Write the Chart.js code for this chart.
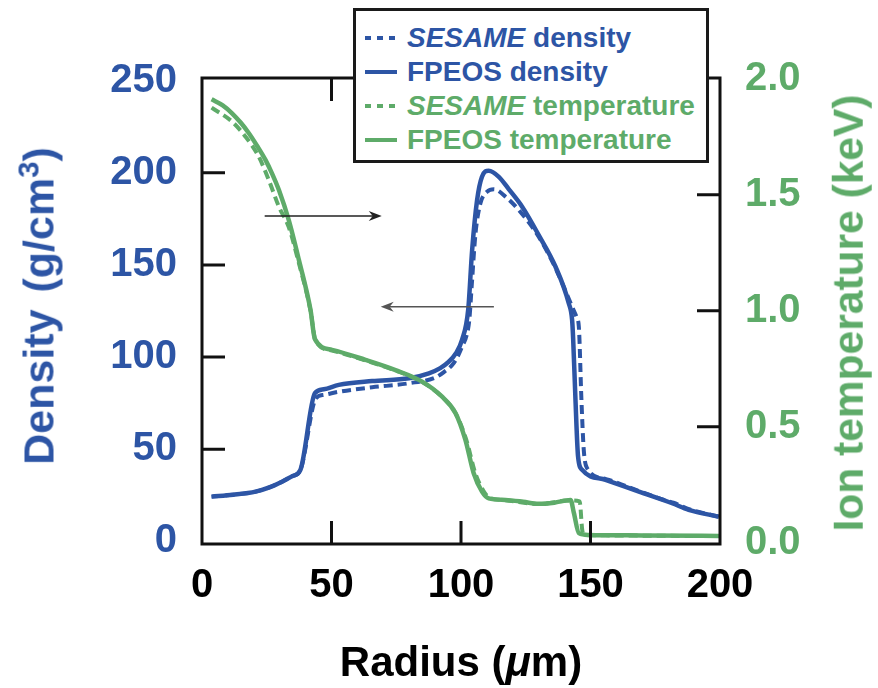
<!DOCTYPE html>
<html>
<head>
<meta charset="utf-8">
<script src="https://cdn.jsdelivr.net/npm/chart.js@4.4.1/dist/chart.umd.min.js"></script>
<style>
html, body { margin: 0; padding: 0; background: #fff; }
#wrap { position: relative; width: 878px; height: 688px; font-family: "Liberation Sans", Arial, sans-serif; font-weight: bold; }
#chart { position: absolute; left: 0; top: 0; }
.title { position: absolute; white-space: nowrap; line-height: 1; transform: translate(-50%, -50%); }
.rot { transform: translate(-50%, -50%) rotate(-90deg); }
.sup { font-size: 0.68em; position: relative; top: -0.5em; }
#legend { position: absolute; left: 353px; top: 8px; width: 350px; height: 149px; border: 3px solid #1a1a1a; background: #fff; }
.row { position: absolute; left: 9px; height: 34px; line-height: 34px; font-size: 28px; white-space: nowrap; }
.row svg { position: absolute; left: 0; top: 0; }
.row span { position: absolute; left: 42px; top: 0; }
</style>
</head>
<body>
<div id="wrap">
  <canvas id="chart" width="878" height="688"></canvas>
  <div class="title rot" style="left:39px; top:306px; font-size:43px; word-spacing:5px; color:#2d55a5;">Density (g/cm<span class="sup">3</span>)</div>
  <div class="title rot" style="left:849px; top:313px; font-size:42.5px; color:#5eab69;">Ion temperature (keV)</div>
  <div class="title" style="left:461px; top:662px; font-size:42px; color:#000;">Radius (<i>μ</i>m)</div>
  <div id="legend">
    <div class="row" style="top:10px; color:#2d55a5;">
      <svg width="34" height="34"><line x1="0" y1="17" x2="32" y2="17" stroke="#2d55a5" stroke-width="4" stroke-dasharray="6 6"/></svg>
      <span><i>SESAME</i> density</span>
    </div>
    <div class="row" style="top:44px; color:#2d55a5;">
      <svg width="34" height="34"><line x1="0" y1="17" x2="32" y2="17" stroke="#2d55a5" stroke-width="4"/></svg>
      <span>FPEOS density</span>
    </div>
    <div class="row" style="top:78px; color:#5eab69;">
      <svg width="34" height="34"><line x1="0" y1="17" x2="32" y2="17" stroke="#5eab69" stroke-width="4" stroke-dasharray="6 6"/></svg>
      <span><i>SESAME</i> temperature</span>
    </div>
    <div class="row" style="top:112px; color:#5eab69;">
      <svg width="34" height="34"><line x1="0" y1="17" x2="32" y2="17" stroke="#5eab69" stroke-width="4"/></svg>
      <span>FPEOS temperature</span>
    </div>
  </div>
</div>
<script>
// Tick values
var radiusTicks = [0, 50, 100, 150, 200];
var densityTicks = [0, 50, 100, 150, 200, 250];
var tempTicks = [0, 0.5, 1.0, 1.5, 2.0];

// FPEOS density (g/cm3) vs radius (um)
var fpeosDensR = [3.7, 12, 20.7, 26, 30.9, 35, 38.0, 43.6, 47, 52.8, 65.7, 79.9, 87.6, 92, 95.3, 98, 100.4, 102.8, 104.3, 106.2, 108.1, 110.7, 114.6, 118.5, 123.6, 130.0, 136.5, 141.6, 142.9, 143.3, 144.2, 145.2, 146.8, 155.8, 168.7, 181.5, 187.9, 199.6];
var fpeosDens = [24.3, 25.3, 27.0, 29.3, 32.4, 35.5, 38.8, 80.4, 82.5, 84.9, 87.0, 88.5, 91.2, 94, 97.5, 102, 109.3, 126, 158, 185, 197.8, 201.1, 197.8, 191, 181.6, 166.2, 149.0, 129.2, 120.1, 110, 76.7, 46, 38.8, 33.4, 27.0, 20.7, 17.1, 13.4];

// SESAME density
var sesameDensR = [3.7, 12, 20.7, 26, 30.9, 35, 38.0, 44.0, 47, 52.8, 65.7, 79.9, 90.2, 93.5, 96.6, 98.6, 100.4, 102.2, 103.2, 104.2, 105.6, 107.5, 110.1, 112.7, 117.2, 122.3, 130.0, 136.5, 142.9, 144.8, 145.5, 146.5, 147.4, 148.7, 156, 168.7, 180, 182, 188, 199.6];
var sesameDens = [24.3, 25.3, 27.0, 29.3, 32.4, 35.5, 38.8, 77.7, 79.5, 81.2, 83.6, 85.8, 89.0, 92, 95.7, 100, 105.6, 112, 120, 140, 167.1, 183.4, 189.7, 191.0, 187.0, 179.8, 165.3, 148.2, 127.3, 121.0, 116.5, 76.7, 49.6, 39.7, 33.8, 27.3, 21.8, 21.0, 17.5, 13.4];

// FPEOS ion temperature (keV)
var fpeosTempR = [3.7, 8, 11.6, 15, 18.1, 21.3, 24.5, 27.1, 29.7, 33.5, 37.4, 41.9, 43.6, 50.2, 63.1, 74.7, 85.0, 92.7, 97.9, 101.7, 104.9, 108.1, 110.7, 117.2, 124, 130.0, 136, 142.3, 143.6, 145.5, 149.3, 170, 199.6];
var fpeosTemp = [1.911, 1.885, 1.851, 1.81, 1.765, 1.71, 1.650, 1.59, 1.520, 1.390, 1.219, 1.003, 0.877, 0.831, 0.788, 0.744, 0.694, 0.629, 0.558, 0.443, 0.299, 0.220, 0.191, 0.184, 0.176, 0.167, 0.172, 0.184, 0.127, 0.041, 0.033, 0.031, 0.029];

// SESAME ion temperature
var sesameTempR = [3.7, 11.6, 16.8, 21.9, 25.8, 29.7, 33.5, 37.4, 41.9, 43.8, 50.2, 63.1, 74.7, 85.0, 92.7, 97.9, 102, 105.5, 108.7, 111, 117.2, 130.0, 142.3, 145.8, 146.8, 147.5, 150, 170, 199.6];
var sesameTemp = [1.875, 1.815, 1.75, 1.664, 1.563, 1.448, 1.36, 1.205, 1.0, 0.872, 0.828, 0.785, 0.742, 0.692, 0.628, 0.558, 0.445, 0.300, 0.222, 0.193, 0.183, 0.166, 0.182, 0.178, 0.055, 0.035, 0.032, 0.030, 0.028];

var blue = '#2d55a5';
var green = '#5eab69';

function pts(xs, ys) {
    return xs.map(function(x, i) { return { x: x, y: ys[i] }; });
}

// annotation arrows, in data units of the density axis
var arrowNotes = [
    { x1: 24.2, x2: 69.4, y: 176.5, color: '#222' },
    { x1: 112.7, x2: 69.0, y: 127.3, color: '#555' }
];

var frameTicks = {
    id: 'frameTicks',
    afterDatasetsDraw: function(chart) {
        var ctx = chart.ctx, a = chart.chartArea, s = chart.scales;
        ctx.save();
        ctx.strokeStyle = '#111';
        ctx.lineWidth = 3;
        ctx.beginPath();
        densityTicks.slice(1, -1).forEach(function(v) {
            var y = s.yD.getPixelForValue(v);
            ctx.moveTo(a.left, y); ctx.lineTo(a.left + 23, y);
        });
        tempTicks.slice(1, -1).forEach(function(v) {
            var y = s.yT.getPixelForValue(v);
            ctx.moveTo(a.right, y); ctx.lineTo(a.right - 23, y);
        });
        radiusTicks.slice(1, -1).forEach(function(v) {
            var x = s.x.getPixelForValue(v);
            ctx.moveTo(x, a.bottom); ctx.lineTo(x, a.bottom - 23);
            ctx.moveTo(x, a.top); ctx.lineTo(x, a.top + 23);
        });
        ctx.stroke();
        ctx.strokeRect(a.left, a.top, a.right - a.left, a.bottom - a.top);

        // arrows
        arrowNotes.forEach(function(n) {
            var px1 = s.x.getPixelForValue(n.x1), px2 = s.x.getPixelForValue(n.x2);
            var py = s.yD.getPixelForValue(n.y);
            var dir = px2 > px1 ? 1 : -1;
            ctx.strokeStyle = n.color;
            ctx.fillStyle = n.color;
            ctx.lineWidth = 1.5;
            ctx.beginPath();
            ctx.moveTo(px1, py); ctx.lineTo(px2 - dir * 6, py);
            ctx.stroke();
            ctx.beginPath();
            ctx.moveTo(px2, py);
            ctx.lineTo(px2 - dir * 13, py - 5);
            ctx.lineTo(px2 - dir * 9, py);
            ctx.lineTo(px2 - dir * 13, py + 5);
            ctx.closePath();
            ctx.fill();
        });
        ctx.restore();
    }
};

var tickFont = { family: '"Liberation Sans", Arial, sans-serif', size: 40, weight: 'bold' };

var ctx = document.getElementById('chart').getContext('2d');
var myChart = new Chart(ctx, {
    type: 'line',
    data: {
        datasets: [{
            label: 'FPEOS temperature',
            data: pts(fpeosTempR, fpeosTemp),
            yAxisID: 'yT',
            borderColor: green,
            borderWidth: 4.5,
            order: 0
        }, {
            label: 'SESAME temperature',
            data: pts(sesameTempR, sesameTemp),
            yAxisID: 'yT',
            borderColor: green,
            borderWidth: 4,
            borderDash: [9, 5],
            order: 1
        }, {
            label: 'FPEOS density',
            data: pts(fpeosDensR, fpeosDens),
            yAxisID: 'yD',
            borderColor: blue,
            borderWidth: 4.5,
            order: 2
        }, {
            label: 'SESAME density',
            data: pts(sesameDensR, sesameDens),
            yAxisID: 'yD',
            borderColor: blue,
            borderWidth: 4,
            borderDash: [9, 5],
            order: 3
        }]
    },
    options: {
        responsive: false,
        animation: false,
        devicePixelRatio: 1,
        layout: { padding: { top: 78, left: 0, right: 0, bottom: 0 } },
        elements: {
            point: { radius: 0 },
            line: { cubicInterpolationMode: 'monotone', fill: false, borderCapStyle: 'butt' }
        },
        plugins: { legend: { display: false }, tooltip: { enabled: false } },
        scales: {
            x: {
                type: 'linear',
                position: 'bottom',
                min: 0,
                max: 200,
                afterBuildTicks: function(axis) { axis.ticks = radiusTicks.map(function(v) { return { value: v }; }); },
                afterFit: function(axis) { axis.height = 144; },
                grid: { display: false, drawTicks: false },
                border: { display: false },
                ticks: { font: tickFont, color: '#000', padding: 18, maxRotation: 0 }
            },
            yD: {
                type: 'linear',
                position: 'left',
                min: -1.4,
                max: 251.4,
                afterBuildTicks: function(axis) { axis.ticks = densityTicks.map(function(v) { return { value: v }; }); },
                afterFit: function(axis) { axis.width = 202; },
                grid: { display: false, drawTicks: false },
                border: { display: false },
                ticks: { font: tickFont, color: blue, padding: 25 }
            },
            yT: {
                type: 'linear',
                position: 'right',
                min: -0.006,
                max: 2.003,
                afterBuildTicks: function(axis) { axis.ticks = tempTicks.map(function(v) { return { value: v }; }); },
                afterFit: function(axis) { axis.width = 158; },
                grid: { display: false, drawTicks: false },
                border: { display: false },
                ticks: {
                    font: tickFont, color: green, padding: 25,
                    callback: function(v) { return Number(v).toFixed(1); }
                }
            }
        }
    },
    plugins: [frameTicks]
});
</script>
</body>
</html>
